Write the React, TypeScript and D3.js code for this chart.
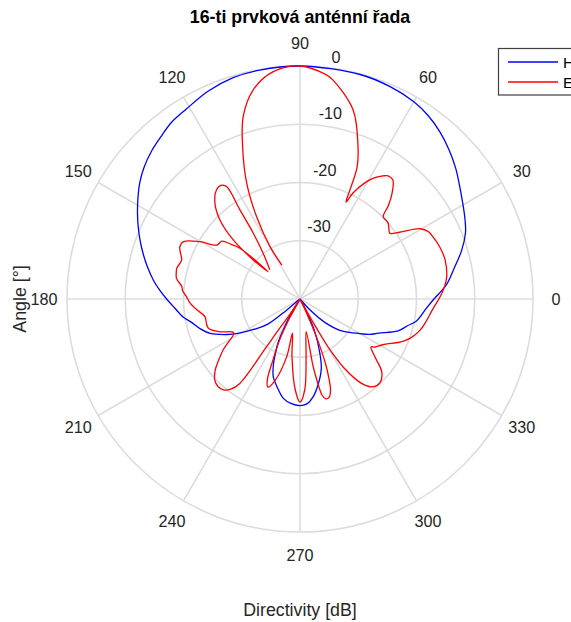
import React from 'react';
import * as d3 from 'd3';

const TITLE = '16-ti prvková anténní řada';
const X_LABEL = 'Directivity [dB]';
const Y_LABEL = 'Angle [°]';
const SERIES_NAMES = ['H-rovina', 'E-rovina'];
const SERIES_COLORS = ['#0000ff', '#ff0000'];

const THETA_TICKS = [0, 30, 60, 90, 120, 150, 180, 210, 240, 270, 300, 330];
const R_DOMAIN = [-40, 0];
const R_TICKS = [-30, -20, -10, 0];

// H-plane (blue): angle [deg], directivity [dB]
const H_THETA = [
  -50, -47.5, -43, -37.5, -31, -27, -23.5, -18, -14, -10.5, -4, 0, 2.5, 6, 10.7, 16.8, 21.8, 26, 31.3, 35,
  40, 45, 50, 55, 60, 67, 75, 90, 100, 106.8, 114, 120.9, 126, 130, 135, 140, 144, 148, 152, 156,
  160, 164, 168, 172.6, 176.5, 180, 184, 188.7, 192, 196.5, 201, 206, 209, 213.5, 218, 219.6, 221,
  238, 239, 241.5, 243.4, 246, 248, 251, 255.4, 260.5, 265, 270, 274, 277.5, 282, 287, 290, 294, 297, 299,
];
const H_DB = [
  -40, -37.5, -34, -31, -28.6, -26.6, -25.3, -22.3, -21, -19.6, -18.2, -17, -16, -14.6, -13.2, -11, -9.4, -8.5, -7.4, -6.5,
  -5.1, -3.8, -2.6, -1.6, -0.9, -0.4, -0.1, 0, -0.1, -0.3, -1, -2, -2.5, -3.2, -4, -5, -6, -7.2, -8.4, -9.6,
  -10.8, -12, -13.2, -14.6, -15.9, -17.1, -18.4, -19.7, -20.9, -22.1, -23.5, -26.1, -27.8, -30.6, -33, -37, -40,
  -39, -36.5, -34, -31.6, -29.5, -27.8, -25.9, -24.4, -22.7, -22, -21.7, -22, -23, -25, -27.5, -30, -33.5, -37, -40,
];

// E-plane (red): angle [deg], directivity [dB], in drawing order
const E_THETA = [
  118, 119.8, 117.8, 114.7, 111, 107.3, 102.6, 96.7, 90, 83.5, 81.4, 74.3, 69.6, 66.6, 65.4, 64.6,
  63.4, 61, 58.9, 56, 54.4, 52, 49, 46.5, 44.7, 41, 38.5, 36.3, 33.8, 30.3, 27.6, 25, 20.4, 15, 8, 2.4,
  -4.7, -10, -14.5, -19.5, -23.3, -25.3, -29, -32.6, -34, -37.6, -41.7, -46.4, -50.3, -53, -55, -57.5,
  -59.5, -60.5, -61.5, -63, -65, -66.5, -68.5, -70, -71.5, -73.5, -75.5, -77, -78.5, -79, -79.3,
  -84, -87, -90, -93, -97.9, -102.5, -103, -107, -110, -112, -113.6, -116.6, -118.5, -120.5,
  -123.5, -124.9, -125, -125.5, -127.5, -130.2, -133, -136.4, -140, -143, -146.5, -149, -151.7, -153.5,
  -158, -162.3, -165.4, -169.5, -174, -178, 178.8, 176, 174, 170.5, 168.3, 166, 161.8, 158.5, 156.5,
  153.8, 150.2, 147, 143.5, 141.5, 139.8, 139.3, 140.1, 138.5, 135.4, 131.6, 127.4, 124.5, 123.1, 124,
  125.4, 128.8, 136,
];
const E_DB = [
  -33.4, -29.6, -24, -18.1, -12.6, -7.2, -3.2, -0.7, 0, -1.2, -2, -6.3, -11.5, -15.3, -19.4, -21.6,
  -19.6, -17.3, -15.8, -14.5, -14, -14.1, -15.9, -18, -19.9, -20, -20.5, -20.9, -19.4, -16.1, -15.1, -14.8, -14.4, -14.2, -14.6, -15.6,
  -17.2, -18, -18.7, -19.9, -21.3, -22.3, -23.8, -24.7, -25.3, -23.8, -21.2, -20.1, -20.4, -21.5, -23, -26,
  -30, -34, -38, -40, -37.5, -33, -28, -25.5, -23.5, -22.4, -22.3, -23, -26.5, -28.2, -34.3,
  -30, -24.4, -22.3, -24.4, -30, -34, -29.8, -25.4, -23.9, -25, -28, -32.3, -36, -40,
  -37, -33, -30, -22.2, -20.5, -19.6, -19.4, -19.8, -21, -22.5, -24.2, -25.7, -27, -27.2,
  -25, -23.5, -23.4, -23.4, -22.2, -21.1, -20.5, -19.8, -19.6, -18.5, -18.3, -18.2, -18.6, -17.9, -17.5,
  -17.7, -20.2, -23, -23.3, -25, -26.5, -32.8, -29.6, -24.7, -20.7, -18, -16.4, -16.3, -17, -21.6,
  -26.2, -29.9, -32.8,
];

const FONT = "'Liberation Sans', Arial, Helvetica, sans-serif";

export default function App() {
  const W = 571;
  const Hh = 622;
  const cx = 300;
  const cy = 299;
  const R = 233;

  const r = d3.scaleLinear().domain(R_DOMAIN).range([0, R]).clamp(true);
  const toRad = (deg: number) => (deg * Math.PI) / 180;

  const radial = d3
    .lineRadial<[number, number]>()
    .angle((d) => toRad(90 - d[0]))
    .radius((d) => r(d[1]))
    .curve(d3.curveCatmullRom.alpha(0.5));

  const hData = H_THETA.map((t, i) => [t, H_DB[i]] as [number, number]);
  const eData = E_THETA.map((t, i) => [t, E_DB[i]] as [number, number]);

  const gridColor = '#dcdcdc';
  const textColor = '#262626';

  return (
    <svg
      width={W}
      height={Hh}
      style={{ position: 'absolute', left: 0, top: 0, background: '#fff' }}
      fontFamily={FONT}
    >
      <rect x={0} y={0} width={W} height={Hh} fill="#ffffff" />
      <g transform={`translate(${cx},${cy})`}>
        {R_TICKS.map((t) => (
          <circle key={t} r={r(t)} fill="none" stroke={gridColor} strokeWidth={1.6} />
        ))}
        {THETA_TICKS.map((t) => (
          <line
            key={t}
            x1={0}
            y1={0}
            x2={R * Math.cos(toRad(t))}
            y2={-R * Math.sin(toRad(t))}
            stroke={gridColor}
            strokeWidth={1.6}
          />
        ))}
        {THETA_TICKS.map((t) => (
          <text
            key={'tl' + t}
            x={256 * Math.cos(toRad(t))}
            y={-256 * Math.sin(toRad(t))}
            dy="0.36em"
            textAnchor="middle"
            fontSize={16.2}
            fill={textColor}
          >
            {t}
          </text>
        ))}
        {R_TICKS.map((t) => (
          <text
            key={'rl' + t}
            x={13.4 + 0.097 * r(t)}
            y={-0.971 * r(t) - 16}
            dy="0.36em"
            textAnchor="middle"
            fontSize={16.2}
            fill={textColor}
          >
            {t}
          </text>
        ))}
        <path d={radial(hData) || ''} fill="none" stroke={SERIES_COLORS[0]} strokeWidth={1.3} strokeLinejoin="round" />
        <path d={radial(eData) || ''} fill="none" stroke={SERIES_COLORS[1]} strokeWidth={1.3} strokeLinejoin="round" />
      </g>

      <text x={300} y={23} textAnchor="middle" fontSize={17.8} fontWeight="bold" fill="#000">
        {TITLE}
      </text>
      <text x={300} y={616} textAnchor="middle" fontSize={17.8} fill={textColor}>
        {X_LABEL}
      </text>
      <text transform={`translate(26,${cy}) rotate(-90)`} textAnchor="middle" fontSize={17.8} fill={textColor}>
        {Y_LABEL}
      </text>

      <g>
        <rect x={498.5} y={48.5} width={100} height={46.5} fill="#fff" stroke="#404040" strokeWidth={1.2} />
        {SERIES_NAMES.map((name, i) => (
          <g key={name}>
            <line x1={508} x2={558} y1={62 + i * 20} y2={62 + i * 20} stroke={SERIES_COLORS[i]} strokeWidth={1.3} />
            <text x={563} y={68 + i * 20} fontSize={15.5} fill="#000">
              {name}
            </text>
          </g>
        ))}
      </g>
    </svg>
  );
}
